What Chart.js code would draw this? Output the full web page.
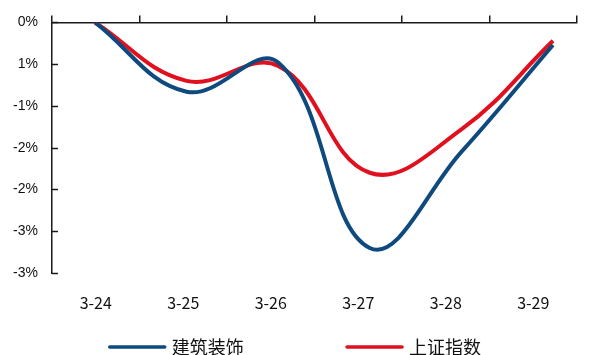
<!DOCTYPE html>
<html>
<head>
<meta charset="utf-8">
<script src="https://cdn.jsdelivr.net/npm/chart.js@4/dist/chart.umd.min.js"></script>
<style>
  html, body { margin: 0; padding: 0; background: #fff; }
  #wrap { width: 596px; height: 355px; }
</style>
</head>
<body>
<div id="wrap"><canvas id="c" width="596" height="355"></canvas></div>
<script>
// Daily cumulative change (%), week of 3-24
const categories = ['3-24', '3-25', '3-26', '3-27', '3-28', '3-29'];
const jianzhuZhuangshi = [0, -0.83, -0.48, -2.70, -1.55, -0.27];
const shangzhengZhishu = [0, -0.70, -0.52, -1.80, -1.28, -0.22];
const seriesNames = ['建筑装饰', '上证指数'];
// Axis labels as printed, from 0% at the top down to the bottom
const yTickLabels = ['0%', '1%', '-1%', '-2%', '-2%', '-3%', '-3%'];

const BLUE = '#0f4a7f';
const RED = '#e1101e';
const AXIS = '#1a1a1a';

// Lines run on their own hidden index axis (one unit per day)
const toPoints = arr => arr.map((v, i) => ({ x: i, y: v }));

// Short tick marks on the inside of the value axis
const innerYTicks = {
  id: 'innerYTicks',
  afterDraw(chart) {
    const y = chart.scales.y;
    const ctx = chart.ctx;
    ctx.save();
    ctx.strokeStyle = AXIS;
    ctx.lineWidth = 1.5;
    y.ticks.forEach(t => {
      const py = Math.round(y.getPixelForValue(t.value)) + 0.5;
      ctx.beginPath();
      ctx.moveTo(chart.chartArea.left, py);
      ctx.lineTo(chart.chartArea.left + 6, py);
      ctx.stroke();
    });
    ctx.restore();
  }
};

// Legend row under the chart
const bottomLegend = {
  id: 'bottomLegend',
  afterDraw(chart) {
    const ctx = chart.ctx;
    const area = chart.chartArea;
    const w = area.right - area.left;
    const starts = [area.left + w * 0.11, area.left + w * 0.562];
    const yMid = 347;
    ctx.save();
    ctx.font = '18px "Noto Sans CJK SC"';
    ctx.textBaseline = 'middle';
    chart.data.datasets.forEach((ds, i) => {
      const x0 = starts[i];
      ctx.strokeStyle = ds.borderColor;
      ctx.lineWidth = 3.5;
      ctx.lineCap = 'round';
      ctx.beginPath();
      ctx.moveTo(x0, yMid);
      ctx.lineTo(x0 + 55, yMid);
      ctx.stroke();
      ctx.fillStyle = '#111';
      ctx.fillText(ds.label, x0 + 62, yMid);
    });
    ctx.restore();
  }
};

new Chart(document.getElementById('c'), {
  type: 'line',
  data: {
    labels: categories,
    datasets: [
      { label: seriesNames[0], data: toPoints(jianzhuZhuangshi), borderColor: BLUE, backgroundColor: BLUE,
        borderWidth: 4, pointRadius: 0, tension: 0.4, xAxisID: 'xLine' },
      { label: seriesNames[1], data: toPoints(shangzhengZhishu), borderColor: RED, backgroundColor: RED,
        borderWidth: 4, pointRadius: 0, tension: 0.4, xAxisID: 'xLine' }
    ]
  },
  options: {
    responsive: false,
    animation: false,
    devicePixelRatio: 1,
    layout: { padding: { top: 12, right: 19, bottom: 42, left: 0 } },
    plugins: { legend: { display: false }, tooltip: { enabled: false } },
    scales: {
      x: {
        type: 'category',
        position: 'bottom',
        offset: true,
        grid: { display: false },
        border: { display: false },
        ticks: { color: '#111', font: { family: '"Noto Sans CJK SC"', size: 16 }, padding: 12, maxRotation: 0 },
        afterFit(s) { s.height = 40; }
      },
      xTop: {
        type: 'category',
        position: 'top',
        labels: categories,
        offset: true,
        grid: { offset: true, drawOnChartArea: false, drawTicks: true, tickLength: 7, color: AXIS, lineWidth: 1.5 },
        border: { display: true, color: AXIS, width: 1.5 },
        ticks: { display: false }
      },
      xLine: {
        type: 'linear',
        display: false,
        min: -0.469,
        max: 5.262
      },
      y: {
        min: -3,
        max: 0,
        position: 'left',
        grid: { display: false, drawTicks: false },
        border: { display: true, color: AXIS, width: 1.5 },
        ticks: {
          stepSize: 0.5,
          padding: 14,
          color: '#111',
          font: { family: '"Liberation Sans"', size: 14 },
          callback: function (v, i, ticks) { return yTickLabels[ticks.length - 1 - i]; }
        },
        afterFit(s) { s.width = 52; }
      }
    }
  },
  plugins: [innerYTicks, bottomLegend]
});
</script>
</body>
</html>
